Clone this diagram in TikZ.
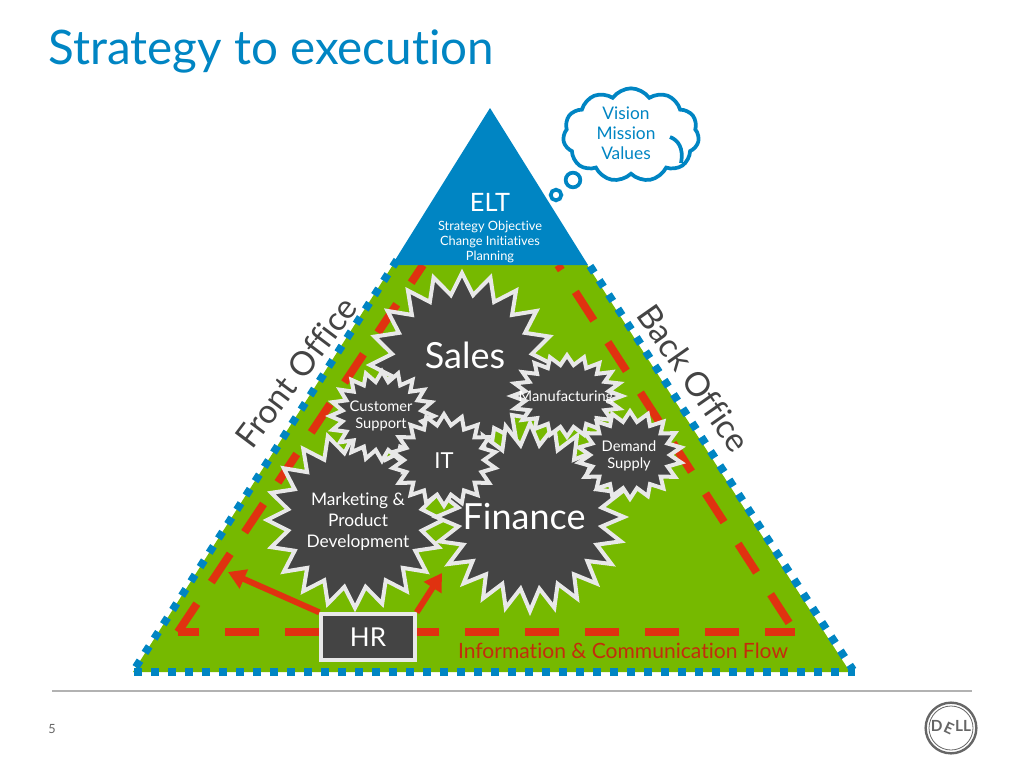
\documentclass[tikz,border=0pt]{standalone}
\usepackage{fontspec}
\setmainfont[Ligatures=NoCommon]{Lato}
\usetikzlibrary{shapes.geometric, shapes.symbols, arrows.meta, positioning}
\definecolor{dellblue}{RGB}{0, 133, 195}
\definecolor{dellgreen}{RGB}{118, 185, 0}
\definecolor{flowred}{RGB}{224, 50, 16}
\definecolor{flowtext}{RGB}{196, 44, 12}
\definecolor{burstgray}{RGB}{68, 68, 68}
\definecolor{burstedge}{RGB}{232, 232, 232}
\newcommand{\pxfont}[2]{\fontsize{#1}{#2}\selectfont}
\begin{document}
\begin{tikzpicture}[
        x=0.75pt, y=-0.75pt,
        burst/.style args={#1 of #2}{star, star points=#1, star point ratio=1.3, minimum size=#2*0.75pt, inner sep=0pt, draw=burstedge, fill=burstgray, line width=3pt},
        bursttext/.style={text=white, align=center, inner sep=0pt},
        slant/.style={text=burstgray, inner sep=0pt, font=\pxfont{25pt}{28pt}},
        flow/.style={draw=flowred, line width=6pt, dash pattern=on 25.5pt off 19.5pt},
        hrarr/.style={-{Triangle[length=13pt,width=15pt]}, draw=flowred, line width=4.5pt},
        dots/.style={draw=dellblue, line width=5.8pt, dash pattern=on 5.8pt off 6.95pt},
        bubble/.style={circle, draw=dellblue, fill=white, line width=2.8pt, inner sep=0pt}
      ]
        \useasboundingbox (0,0) rectangle (1024,768);
        \node[anchor=west, text=dellblue, inner sep=0pt, font=\pxfont{35.7pt}{40pt}] (title) at (48,51) {Strategy to execution};

        % pyramid
        \fill[dellgreen] (396,260) -- (133,672) -- (850,672) -- (584,260) -- cycle;
        \draw[flow, dash phase=3pt] (795,632) -- (178,632);
        \draw[flow] (178,632) -- (423,265);
        \draw[flow, dash phase=21pt] (558,265) -- (795,632);
        \draw[dots] (397,260) -- (134,670);
        \draw[dots] (134,672) -- (855,672);
        \draw[dots] (590,266) -- (853,670);
        \fill[dellblue] (490,108) -- (392,265) -- (588,265) -- cycle;
        \node[text=white, inner sep=0pt, font=\pxfont{19pt}{22pt}] (elt) at (490,202) {ELT};
        \node[text=white, align=center, inner sep=0pt, below=7pt of elt, font=\pxfont{9.6pt}{11.25pt}] (eltsub) {Strategy Objective\\Change Initiatives\\Planning};

        % thought cloud
        \node[cloud, cloud puffs=11, cloud puff arc=110, aspect=1.5, draw=dellblue, fill=white, line width=2.8pt, minimum width=102pt, minimum height=70pt, inner sep=0pt] (cloud) at (631,135) {};
        \draw[draw=dellblue, line width=2.8pt] (670,137) .. controls (678,140) and (684,148) .. (681,163);
        \node[text=dellblue, align=center, inner sep=0pt, font=\pxfont{13pt}{15pt}] (vision) at (626,133) {Vision\\Mission\\Values};
        \node[bubble, minimum size=11pt] (bubblea) at (573,180) {};
        \node[bubble, minimum size=8pt] (bubbleb) at (556,195) {};

        % departments
        \node at (462,365) [burst=20 of 184] (sales) {};
        \node at (355,520) [burst=20 of 176] (marketing) {};
        \node at (530,517) [burst=24 of 188] (finance) {};
        \node at (567,396) [burst=20 of 110, yscale=0.74, transform shape] (manufacturing) {};
        \node at (630,455) [burst=18 of 104, yscale=0.84, transform shape] (demand) {};
        \node at (382,416) [burst=20 of 104, yscale=0.86, transform shape] (customer) {};
        \node at (444,460) [burst=18 of 104, yscale=0.88, transform shape] (it) {};
        \node[bursttext, font=\pxfont{27pt}{30pt}] (salestext) at (465,355) {Sales};
        \node[bursttext, font=\pxfont{13pt}{15.75pt}] (marketingtext) at (358,522) {Marketing \&\\Product\\Development};
        \node[bursttext, font=\pxfont{27pt}{34pt}] (financetext) at (524,517) {Finance};
        \node[bursttext, font=\pxfont{11pt}{12pt}] (manufacturingtext) at (566,397) {Manufacturing};
        \node[bursttext, font=\pxfont{11pt}{12.75pt}] (demandtext) at (629,456) {Demand\\Supply};
        \node[bursttext, font=\pxfont{11pt}{12.75pt}] (customertext) at (381,416) {Customer\\Support};
        \node[bursttext, font=\pxfont{16.5pt}{18pt}] (ittext) at (444,461) {IT};

        % HR and arrows
        \node[draw=burstedge, fill=burstgray, text=white, line width=3pt, minimum width=70pt, minimum height=34pt, inner sep=0pt, font=\pxfont{19.5pt}{22pt}] (hr) at (368,637) {HR};
        \coordinate (markettip) at (228,572);
        \coordinate (financetip) at (442,573);
        \draw[hrarr] (hr.north west) -- (markettip);
        \draw[hrarr] (hr.north east) -- (financetip);
        \node[text=flowtext, inner sep=0pt, font=\pxfont{15.8pt}{18pt}] (flowlabel) at (623,651) {Information \& Communication Flow};

        % side labels
        \node[slant, rotate=53] (front) at (296,372) {Front Office};
        \node[slant, rotate=-55] (back) at (694,378) {Back Office};

        % footer
        \coordinate (footl) at (52,691);
        \coordinate (footr) at (972,691);
        \draw[draw=black!30, line width=0.9pt] (footl) -- (footr);
        \node[text=black!60, inner sep=0pt, font=\pxfont{9.5pt}{11pt}] (page) at (52,729) {5};
        \node[circle, draw=black!60, line width=1.8pt, minimum size=38pt, inner sep=0pt, text=black!60, font=\pxfont{11.5pt}{12pt}\bfseries] (logo) at (951,728) {D\rotatebox{-25}{E}LL};
        \node[circle, draw=black!60, line width=0.6pt, minimum size=33pt, inner sep=0pt] (logoring) at (logo) {};
      \end{tikzpicture}
\end{document}
